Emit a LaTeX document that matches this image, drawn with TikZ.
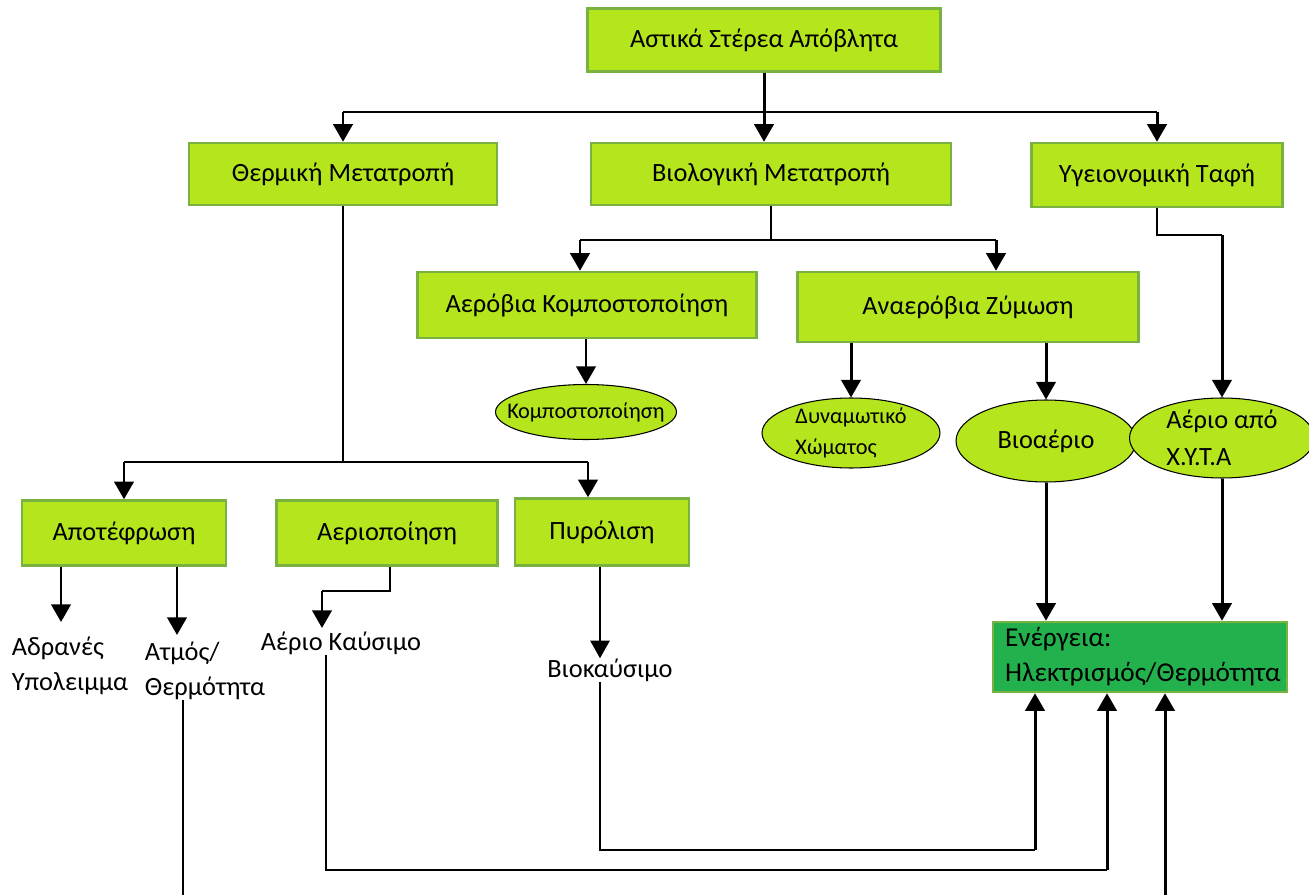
\documentclass[tikz,border=0pt]{standalone}
\usepackage{fontspec}
\setmainfont{Carlito}
\usepackage{tikz}
\usetikzlibrary{arrows.meta, shapes.geometric, positioning}
\definecolor{WasteLime}{RGB}{181,230,29}
\definecolor{WasteEdge}{RGB}{122,178,66}
\definecolor{PowerGreen}{RGB}{34,177,76}
\tikzset{
  stage/.style={
    rectangle, minimum height=1.26cm,
    draw=WasteEdge, line width=1.4pt, fill=WasteLime,
    font=\fontsize{15}{21}\selectfont, text=black
  },
  product/.style={
    ellipse, inner xsep=-1cm, inner ysep=-0.3cm, align=left,
    draw=black, line width=0.6pt, fill=WasteLime,
    font=\fontsize{15}{21}\selectfont, text=black
  },
  smallproduct/.style={product, font=\fontsize{12.7}{17.5}\selectfont},
  outcome/.style={inner sep=0pt, align=left, font=\fontsize{15}{20}\selectfont},
  power/.style={
    rectangle, align=left, text width=5.4cm, inner xsep=0.24cm,
    minimum height=1.4cm,
    draw=WasteEdge, line width=1.2pt, fill=PowerGreen,
    font=\fontsize{15.5}{20}\selectfont, text=black
  },
  arr/.style={-{Triangle[length=10pt,width=11pt]}, draw=black, line width=1.7pt},
  tarr/.style={-{Triangle[length=10pt,width=11pt]}, draw=black, line width=0.85pt},
  ln/.style={draw=black, line width=0.85pt}
}

\begin{document}
\begin{tikzpicture}[x=0.02cm, y=-0.02cm]
  \useasboundingbox (0,0) rectangle (1309,895);

  % processes
  \node[stage, minimum width=7.06cm] (asw) at (764,40) {Αστικά Στέρεα Απόβλητα};
  \node[stage, minimum width=6.16cm, minimum height=1.24cm] (thermal) at (343,174) {Θερμική Μετατροπή};
  \node[stage, minimum width=7.2cm, minimum height=1.24cm] (biol) at (771,174) {Βιολογική Μετατροπή};
  \node[stage, minimum width=5.02cm, minimum height=1.28cm] (landfill) at (1157,175) {Υγειονομική Ταφή};
  \node[stage, minimum width=6.78cm, minimum height=1.32cm] (aerobic) at (587,305) {Αερόβια Κομποστοποίηση};
  \node[stage, minimum width=6.82cm, minimum height=1.4cm] (anaerobic) at (968,307) {Αναερόβια Ζύμωση};
  \node[stage, minimum width=4.08cm, minimum height=1.3cm] (inciner) at (124,533) {Αποτέφρωση};
  \node[stage, minimum width=4.42cm, minimum height=1.3cm] (gasif) at (387,533) {Αεριοποίηση};
  \node[stage, minimum width=3.48cm, minimum height=1.34cm] (pyrol) at (602,532) {Πυρόλιση};

  % products
  \node[smallproduct, minimum width=3.62cm, minimum height=1.1cm] (compost) at (586,412) {Κομποστοποίηση};
  \node[smallproduct, minimum width=3.56cm, minimum height=1.4cm] (soil) at (851,433) {Δυναμωτικό\\Χώματος};
  \node[product, minimum width=3.6cm, minimum height=1.64cm] (biogas) at (1046,441) {Βιοαέριο};
  \node[product, minimum width=3.7cm, minimum height=1.6cm] (lfgas) at (1222,438) {Αέριο από\\Χ.Υ.Τ.Α};

  \node[outcome] (inert) at (70,666) {Αδρανές\\Υπολειμμα};
  \node[outcome] (steam) at (205,671) {Ατμός/\\Θερμότητα};
  \node[outcome] (fuelgas) at (341,643) {Αέριο Καύσιμο};
  \node[outcome] (biofuel) at (610,670) {Βιοκαύσιμο};

  \node[power] (energy) at (1140,657) {Ενέργεια:\\Ηλεκτρισμός/Θερμότητα};

  % turning points
  \coordinate (top) at (764,112);
  \coordinate (bl) at (580,240);
  \coordinate (br) at (996,240);
  \coordinate (tl) at (124,462);
  \coordinate (tr) at (588,462);
  \coordinate (lturn) at (1157,235);
  \coordinate (ia) at (61,622);
  \coordinate (sa) at (177,635);
  \coordinate (gturn) at (390,591);
  \coordinate (fa) at (322,628);
  \coordinate (bioturn) at (600,850);
  \coordinate (fuelturn) at (326,870);
  \coordinate (e1) at (1035,850);
  \coordinate (e2) at (1107,870);
  \coordinate (steamend) at (183,895);
  \coordinate (loopin) at (1165,895);

  \draw[arr] (asw.south) -- (biol.north -| asw.south);
  \draw[ln] (thermal.north |- top) -- (landfill.north |- top);
  \draw[arr] (thermal.north |- top) -- (thermal.north);
  \draw[arr] (landfill.north |- top) -- (landfill.north);

  \draw[ln] (biol.south) -- (biol.south |- bl);
  \draw[ln] (bl) -- (br);
  \draw[arr] (bl) -- (bl |- aerobic.north);
  \draw[arr] (br) -- (br |- anaerobic.north);
  \draw[arr] (aerobic.south -| compost.north) -- (compost.north);
  \draw[arr] (anaerobic.south -| soil.north) -- (soil.north);
  \draw[arr] (anaerobic.south -| biogas.north) -- (biogas.north);
  \draw[ln] (landfill.south) -- (lturn) -- (lturn -| lfgas.north);
  \draw[arr] (lturn -| lfgas.north) -- (lfgas.north);

  \draw[ln] (thermal.south) -- (thermal.south |- tl);
  \draw[ln] (tl) -- (tr);
  \draw[arr] (tl) -- (inciner.north);
  \draw[arr] (tr) -- (tr |- pyrol.north);
  \draw[arr] (inciner.south -| ia) -- (ia);
  \draw[arr] (inciner.south -| sa) -- (sa);
  \draw[ln] (gasif.south -| gturn) -- (gturn) -- (gturn -| fa);
  \draw[arr] (gturn -| fa) -- (fa);
  \draw[tarr] (pyrol.south -| bioturn) -- (biofuel.north -| bioturn);

  % to energy
  \draw[arr] (biogas.south) -- (biogas.south |- energy.north);
  \draw[arr] (lfgas.south) -- (lfgas.south |- energy.north);
  \draw[ln] (biofuel.south -| bioturn) -- (bioturn) -- (e1);
  \draw[arr] (e1) -- (e1 |- energy.south);
  \draw[ln] (fuelgas.south -| fuelturn) -- (fuelturn) -- (e2);
  \draw[arr] (e2) -- (e2 |- energy.south);
  \draw[ln] (steam.south -| steamend) -- (steamend);
  \draw[arr] (loopin) -- (loopin |- energy.south);
\end{tikzpicture}
\end{document}
